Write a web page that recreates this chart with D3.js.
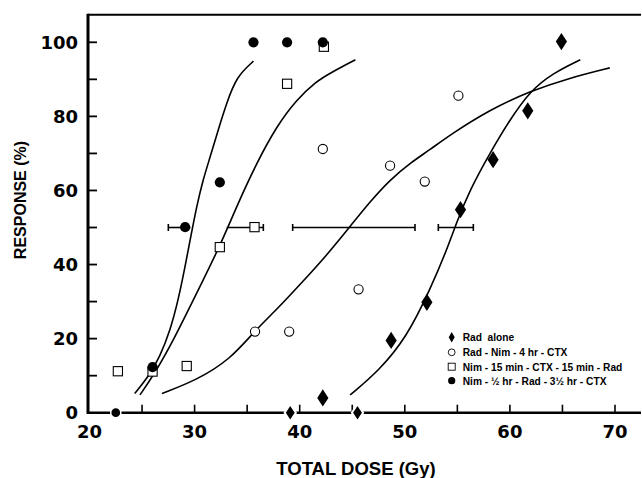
<!DOCTYPE html>
<html><head><meta charset="utf-8">
<script src="https://cdn.jsdelivr.net/npm/d3@7"></script>
<style>
html,body{margin:0;padding:0;background:#fff;}
svg{display:block;}
</style></head>
<body>
<svg id="chart" width="642" height="478"></svg>
<script>
// ---- data ----
const legendLabels = ["Rad  alone", "Rad - Nim - 4 hr - CTX", "Nim - 15 min - CTX - 15 min - Rad", "Nim - \u00BD hr - Rad - 3\u00BD hr - CTX"];

const radAloneX = [39.1, 42.2, 45.5, 48.7, 52.1, 55.3, 58.4, 61.7, 64.9];
const radAloneY = [0, 4, 0, 19.5, 29.8, 54.8, 68.3, 81.5, 100.2];

const radNimX = [35.75, 39.0, 42.2, 45.6, 48.6, 51.9, 55.1];
const radNimY = [21.9, 21.9, 71.2, 33.3, 66.7, 62.4, 85.6];

const nim15X = [22.7, 26.0, 29.25, 32.4, 35.7, 38.8, 42.3];
const nim15Y = [11.2, 11.1, 12.6, 44.7, 50.1, 88.8, 98.8];

const nimHalfX = [22.5, 26.0, 29.1, 32.4, 35.6, 38.8, 42.2];
const nimHalfY = [0, 12.3, 50.1, 62.2, 100, 100, 100];

// fitted curves, points
const curveNimHalf = [[24.3,5.2],[25.6,9.7],[26.7,15.1],[27.7,22.4],[28.45,30.5],[29.1,39.5],[29.7,48.5],[30.2,55.7],[30.8,62.9],[31.5,69.2],[32.25,76.4],[33.05,83.6],[34.0,90.8],[35.6,94.9]];
const curveNim15 = [[24.8,4.8],[26.2,10.6],[28.0,19.6],[30.2,32.3],[32.4,44.9],[34.0,55.7],[35.9,67.4],[37.8,77.3],[39.7,84.5],[41.6,89.5],[42.9,91.7],[45.3,95.3]];
const curveRadNim = [[26.9,5.2],[30.2,8.8],[33.4,14.4],[35.75,22.2],[37.8,27.8],[40.0,34.5],[42.6,42.6],[44.8,50.3],[46.7,57.0],[48.6,62.9],[50.5,67.4],[52.4,71.0],[54.3,75.0],[58.1,81.8],[61.9,86.8],[65.7,90.4],[69.5,93.1]];
const curveRadAlone = [[44.8,4.8],[47.6,11.5],[50.2,20.5],[52.4,33.2],[54.0,44.0],[54.9,51.2],[56.2,60.2],[58.1,70.1],[60.0,79.1],[61.9,86.8],[64.1,91.7],[66.7,95.3]];

// ED50 error bars at 50 % response
const errLevel = 50;
const errLow  = [27.5, 33.05, 39.33, 53.19];
const errHigh = [29.6, 36.54, 50.97, 56.52];
const errCapLow  = [true, false, true, true];
const errCapHigh = [false, true, true, true];

const xTicks = [20, 30, 40, 50, 60, 70];
const xMinorTicks = [25, 35, 45, 55, 65];
const yTicks = [0, 10, 20, 30, 40, 50, 60, 70, 80, 90, 100];
const yTickLabels = [0, 20, 40, 60, 80, 100];

// ---- drawing ----
const svg = d3.select("#chart");
const x = d3.scaleLinear().domain([20, 70]).range([89.5, 615]);
const y = d3.scaleLinear().domain([0, 100]).range([412.7, 42.3]);
const xLeft = 88, xRight = 641, yTop = 14.7, yBottom = y(0);

// curves
const line = d3.line().x(d => x(d[0])).y(d => y(d[1])).curve(d3.curveBasis);
[curveNimHalf, curveNim15, curveRadNim, curveRadAlone].forEach(c => {
  svg.append("path").attr("d", line(c)).attr("fill", "none")
    .attr("stroke", "#000").attr("stroke-width", 1.6);
});

// error bars
errLow.forEach((lo, i) => {
  const g = svg.append("g").attr("stroke", "#000").attr("stroke-width", 1.6);
  g.append("line").attr("x1", x(lo)).attr("x2", x(errHigh[i])).attr("y1", y(errLevel)).attr("y2", y(errLevel));
  if (errCapLow[i]) g.append("line").attr("x1", x(lo)).attr("x2", x(lo)).attr("y1", y(errLevel) - 3.5).attr("y2", y(errLevel) + 3.5);
  if (errCapHigh[i]) g.append("line").attr("x1", x(errHigh[i])).attr("x2", x(errHigh[i])).attr("y1", y(errLevel) - 3.5).attr("y2", y(errLevel) + 3.5);
});

// axes frame
svg.append("line").attr("x1", xLeft).attr("x2", xRight).attr("y1", yTop).attr("y2", yTop).attr("stroke", "#000").attr("stroke-width", 2);
svg.append("line").attr("x1", xLeft).attr("x2", xRight).attr("y1", yBottom).attr("y2", yBottom).attr("stroke", "#000").attr("stroke-width", 2.4);
svg.append("line").attr("x1", xLeft).attr("x2", xLeft).attr("y1", yTop - 1).attr("y2", yBottom + 1.2).attr("stroke", "#000").attr("stroke-width", 3);

// x ticks (inward)
xTicks.concat(xMinorTicks).filter(v => v > 20).forEach(v => {
  svg.append("line").attr("x1", x(v)).attr("x2", x(v)).attr("y1", yBottom).attr("y2", yBottom - 8)
    .attr("stroke", "#000").attr("stroke-width", 1.6);
});
yTicks.filter(v => v > 0).forEach(v => {
  svg.append("line").attr("x1", xLeft).attr("x2", xLeft + 9).attr("y1", y(v)).attr("y2", y(v))
    .attr("stroke", "#000").attr("stroke-width", 1.8);
});

const tickFont = "'DejaVu Sans', sans-serif";
xTicks.forEach(v => {
  svg.append("text").attr("x", x(v)).attr("y", 438).attr("text-anchor", "middle")
    .attr("font-family", tickFont).attr("font-weight", "bold").attr("font-size", 18).text(v);
});
yTickLabels.forEach(v => {
  svg.append("text").attr("x", 78).attr("y", y(v) + 6.6).attr("text-anchor", "end")
    .attr("font-family", tickFont).attr("font-weight", "bold").attr("font-size", 18).text(v);
});

const titleFont = "'Liberation Sans', Arial, sans-serif";
svg.append("text").attr("x", 356).attr("y", 475).attr("text-anchor", "middle")
  .attr("font-family", titleFont).attr("font-weight", "bold").attr("font-size", 18.5).text("TOTAL DOSE (Gy)");
svg.append("text").attr("transform", "translate(26,200) rotate(-90)").attr("text-anchor", "middle")
  .attr("font-family", titleFont).attr("font-weight", "bold").attr("font-size", 16).text("RESPONSE (%)");

// markers
function diamond(g, cx, cy, hw, hh) {
  return g.append("path").attr("d", `M${cx},${cy - hh}L${cx + hw},${cy}L${cx},${cy + hh}L${cx - hw},${cy}Z`);
}
const mk = svg.append("g");
radNimX.forEach((v, i) => {
  mk.append("circle").attr("cx", x(v)).attr("cy", y(radNimY[i])).attr("r", 4.6)
    .attr("fill", "#fff").attr("stroke", "#000").attr("stroke-width", 1.1);
});
nim15X.forEach((v, i) => {
  mk.append("rect").attr("x", x(v) - 4.6).attr("y", y(nim15Y[i]) - 4.6).attr("width", 9.2).attr("height", 9.2)
    .attr("fill", "#fff").attr("stroke", "#000").attr("stroke-width", 1.1);
});
nimHalfX.forEach((v, i) => {
  mk.append("circle").attr("cx", x(v)).attr("cy", y(nimHalfY[i])).attr("r", 5.1)
    .attr("fill", "#000").attr("stroke", "#fff").attr("stroke-width", nimHalfY[i] === 0 ? 1.5 : 0);
});
radAloneX.forEach((v, i) => {
  diamond(mk, x(v), y(radAloneY[i]), 5.6, 8.6).attr("fill", "#000")
    .attr("stroke", "#fff").attr("stroke-width", radAloneY[i] === 0 ? 2 : 0);
});

// legend
const lg = svg.append("g");
const lx = 451.7, ltx = 462.7, ly = [337.3, 352.3, 366.7, 380.7];
diamond(lg, lx, ly[0], 3, 5.2).attr("fill", "#000");
lg.append("circle").attr("cx", lx).attr("cy", ly[1]).attr("r", 3.4).attr("fill", "#fff").attr("stroke", "#000").attr("stroke-width", 0.9);
lg.append("rect").attr("x", lx - 3.5).attr("y", ly[2] - 3.5).attr("width", 7).attr("height", 7).attr("fill", "#fff").attr("stroke", "#000").attr("stroke-width", 0.9);
lg.append("circle").attr("cx", lx).attr("cy", ly[3]).attr("r", 3.6).attr("fill", "#000");
legendLabels.forEach((t, i) => {
  lg.append("text").attr("x", ltx).attr("y", ly[i] + 3.8).attr("font-family", titleFont)
    .attr("font-weight", "bold").attr("font-size", 10.2).attr("xml:space", "preserve").text(t);
});
</script>
</body></html>
